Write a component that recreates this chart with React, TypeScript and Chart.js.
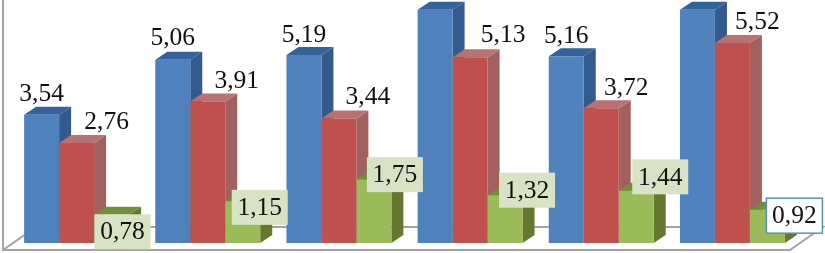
import React, { useEffect, useRef } from "react";
import { Chart, registerables } from "chart.js";

Chart.register(...registerables);

const categories = ["1", "2", "3", "4", "5", "6"];
const blueValues = [3.54, 5.06, 5.19, 6.44, 5.16, 6.44];
const redValues = [2.76, 3.91, 3.44, 5.13, 3.72, 5.52];
const greenValues = [0.78, 1.15, 1.75, 1.32, 1.44, 0.92];
// The two tallest blue bars have no visible label in the picture.
const blueLabels = ["3,54", "5,06", "5,19", null, "5,16", null];
const redLabels = ["2,76", "3,91", "3,44", "5,13", "3,72", "5,52"];
const greenLabels = ["0,78", "1,15", "1,75", "1,32", "1,44", "0,92"];

const DEPTH_X = 12;
const DEPTH_Y = 8;
const FONT = '25.5px "Liberation Serif"';
const faces = [
  { front: "#4f81bd", side: "#335a8c", top: "#34629c" },
  { front: "#c0504d", side: "#a2605f", top: "#b97271" },
  { front: "#9bbb59", side: "#64792f", top: "#6f8f38" },
];
// Label nudges relative to the bar's top centre, [dx, dy].
const labelNudges: number[][][] = [
  [[0, -22], [0, -22], [0, -21], [0, 0], [0, -21], [0, 0]],
  [[30, -22], [29, -21], [29, -22], [33, -23], [25, -21], [25, -22]],
  [[11, 17], [17, 6], [21, -5], [22, -5], [24, -14], [27, 6]],
];

const bars3d = {
  id: "bars3d",
  beforeDatasetsDraw(chart: any) {
    const { ctx, chartArea } = chart;
    const { left, right, bottom } = chartArea;
    // Wall and floor
    ctx.save();
    ctx.strokeStyle = "#a3a3a3";
    ctx.lineWidth = 2;
    const fl = left - 8;
    const fr = right - 8;
    const fy = bottom + 7;
    const bx = 33;
    const by = 23;
    ctx.beginPath();
    ctx.moveTo(fl, chartArea.top);
    ctx.lineTo(fl, fy);
    ctx.lineTo(fr, fy);
    ctx.lineTo(fr + bx, fy - by);
    ctx.lineTo(fl + bx, fy - by);
    ctx.lineTo(fl, fy);
    ctx.stroke();
    // Depth faces
    for (let g = 0; g < categories.length; g++) {
      faces.forEach((f, d) => {
        const el = chart.getDatasetMeta(d).data[g];
        const x0 = el.x - el.width / 2;
        const x1 = el.x + el.width / 2;
        const y0 = el.y;
        const y1 = el.base;
        ctx.fillStyle = f.side;
        ctx.beginPath();
        ctx.moveTo(x1, y0);
        ctx.lineTo(x1 + DEPTH_X, y0 - DEPTH_Y);
        ctx.lineTo(x1 + DEPTH_X, y1 - DEPTH_Y);
        ctx.lineTo(x1, y1);
        ctx.closePath();
        ctx.fill();
        ctx.fillStyle = f.top;
        ctx.beginPath();
        ctx.moveTo(x0, y0);
        ctx.lineTo(x0 + DEPTH_X, y0 - DEPTH_Y);
        ctx.lineTo(x1 + DEPTH_X, y0 - DEPTH_Y);
        ctx.lineTo(x1, y0);
        ctx.closePath();
        ctx.fill();
      });
    }
    ctx.restore();
  },
  afterDatasetsDraw(chart: any) {
    const { ctx } = chart;
    ctx.save();
    ctx.font = FONT;
    ctx.textAlign = "center";
    ctx.textBaseline = "middle";
    ctx.fillStyle = "#111111";
    [blueLabels, redLabels, greenLabels].forEach((labels, d) => {
      labels.forEach((text, g) => {
        if (!text) return;
        const el = chart.getDatasetMeta(d).data[g];
        const cx = el.x + labelNudges[d][g][0];
        const cy = el.y + labelNudges[d][g][1];
        if (d === 2) {
          const last = g === labels.length - 1;
          ctx.fillStyle = last ? "#ffffff" : "#d8e3c6";
          ctx.fillRect(cx - 28, cy - 17.5, 56, 35);
          if (last) {
            ctx.strokeStyle = "#4f93c4";
            ctx.lineWidth = 1.5;
            ctx.strokeRect(cx - 28, cy - 17.5, 56, 35);
          }
          ctx.fillStyle = "#111111";
        }
        ctx.fillText(text, cx, cy + 1);
      });
    });
    ctx.restore();
  },
};

export default function App() {
  const ref = useRef<HTMLCanvasElement>(null);
  useEffect(() => {
    const chart = new Chart(ref.current!, {
      type: "bar",
      data: {
        labels: categories,
        datasets: [
          { data: blueValues, backgroundColor: faces[0].front },
          { data: redValues, backgroundColor: faces[1].front },
          { data: greenValues, backgroundColor: faces[2].front },
        ],
      },
      options: {
        animation: false,
        responsive: false,
        layout: { padding: { left: 11, right: 27, top: 0, bottom: 10 } },
        datasets: { bar: { categoryPercentage: 0.8, barPercentage: 1 } },
        plugins: { legend: { display: false }, tooltip: { enabled: false }, title: { display: false } },
        scales: {
          x: { display: false },
          y: { display: false, min: 0, max: 6.71 },
        },
      },
      plugins: [bars3d],
    } as any);
    return () => chart.destroy();
  }, []);
  return (
    <div style={{ position: "absolute", left: 0, top: 0, width: 825, height: 253, background: "#ffffff", overflow: "hidden" }}>
      <canvas ref={ref} width={825} height={253} style={{ display: "block" }} />
    </div>
  );
}
